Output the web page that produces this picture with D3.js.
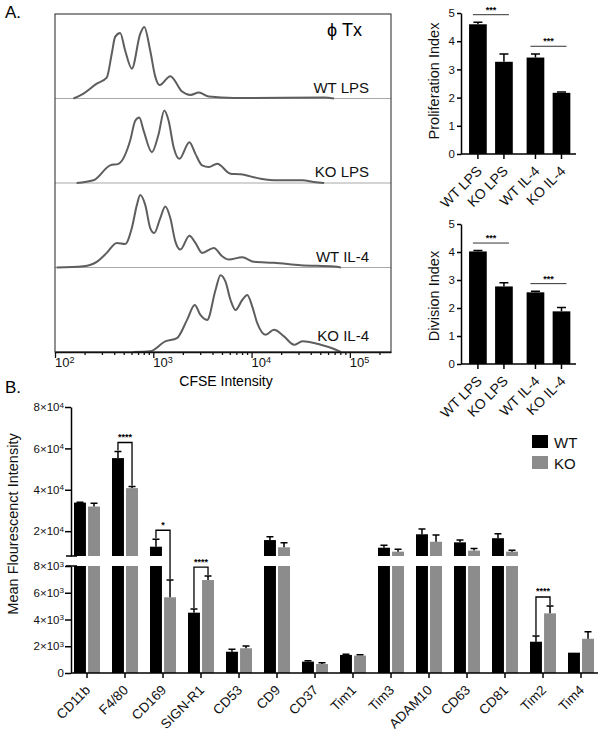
<!DOCTYPE html>
<html>
<head>
<meta charset="utf-8">
<script src="https://cdn.jsdelivr.net/npm/d3@7"></script>
<style>
  body { margin: 0; background: #fff; }
  svg { display: block; font-family: "Liberation Sans", Arial, sans-serif; }
</style>
</head>
<body>
<svg id="fig" width="600" height="733"></svg>
<script>
// ---- panel A, CFSE histograms: [intensity, events] ----
const histSamples = ["WT LPS", "KO LPS", "WT IL-4", "KO IL-4"];
const histWtLps = [[154,0],[195,5],[266,15],[336,21],[378,45],[409,62],[460,66],[518,48],[605,30],
  [736,65],[809,72],[931,48],[1047,22],[1159,13.5],[1490,22.5],[1963,7],[2388,3.5],[2904,6],
  [3673,2],[6605,0.5],[55000,1],[69000,0]];
const histKoLps = [[166,0],[246,2.7],[364,17.7],[443,19.3],[582,42.7],[655,62.7],[720,66],[797,52.7],
  [968,31],[1132,49],[1294,73],[1432,62.7],[1611,36],[1840,24.3],[2329,41],[2683,29.3],[3140,17.7],
  [3673,16],[4467,19.3],[6107,9.3],[7724,8.7],[12350,4.3],[18270,2.7],[32850,2.7],[43200,1],[54700,0]];
const histWtIl4 = [[104,0],[195,1.3],[266,5.7],[336,14.7],[426,24.7],[518,23.7],[605,39.7],[681,63],
  [736,73],[828,63],[931,39.7],[1023,34.7],[1178,49.7],[1325,61.3],[1490,49.7],[1675,26.3],[1886,18],
  [2329,32],[2683,24.7],[3140,14.7],[4130,19.7],[5023,11.3],[5875,8],[8035,10.3],[10560,5.7],
  [16900,4.7],[31620,2.3],[69200,1],[80900,0]];
const histKoIl4 = [[630,0],[931,0.7],[1325,10.7],[1742,14],[2206,32.3],[2641,47.3],[3017,37.3],
  [3532,32.3],[4297,62.3],[4830,77.3],[5430,70.7],[6107,52.3],[6866,42.3],[8035,52.3],[9036,57.3],
  [10160,45.7],[11430,29],[13890,17.3],[16900,22.3],[21380,15.7],[27040,7.3],[32890,10.7],
  [50580,7.3],[69200,3],[80900,0]];
const histData = [histWtLps, histKoLps, histWtIl4, histKoIl4];
const cfseTicks = [100, 1000, 10000, 100000];

// ---- panel A, indices ----
const indexGroups = ["WT LPS", "KO LPS", "WT IL-4", "KO IL-4"];
const prolifMean = [4.6, 3.27, 3.42, 2.17];
const prolifSem = [0.07, 0.28, 0.13, 0.03];
const divMean = [4.02, 2.77, 2.56, 1.88];
const divSem = [0.03, 0.13, 0.04, 0.14];
const indexSig = [["WT LPS", "KO LPS"], ["WT IL-4", "KO IL-4"]];

// ---- panel B, MFI ----
const markers = ["CD11b", "F4/80", "CD169", "SIGN-R1", "CD53", "CD9", "CD37", "Tim1",
  "Tim3", "ADAM10", "CD63", "CD81", "Tim2", "Tim4"];
const genotypes = ["WT", "KO"];
const wtMfi = [33800, 55300, 12500, 4510, 1590, 15700, 850, 1350, 12000, 18500, 14600, 16600, 2340, 1520];
const wtSem = [200, 3200, 3600, 280, 180, 1600, 70, 50, 1160, 2570, 1100, 2100, 430, 0];
const koMfi = [31900, 40800, 5660, 6950, 1850, 12200, 670, 1300, 10100, 14900, 10600, 10100, 4460, 2560];
const koSem = [1600, 770, 1290, 300, 170, 2230, 100, 70, 1160, 3240, 970, 680, 550, 530];
const mfiSig = [["F4/80", "****"], ["CD169", "*"], ["SIGN-R1", "****"], ["Tim2", "****"]];
const upperTicks = [20000, 40000, 60000, 80000];
const lowerTicks = [0, 2000, 4000, 6000, 8000];

const svg = d3.select("#fig");

function powLabel(sel, base, exp) {
  sel.text(null);
  sel.append("tspan").text(base);
  if (exp !== null) sel.append("tspan").attr("dy", "-0.45em").attr("font-size", "0.7em").text(exp);
}

// panel letters
svg.append("text").attr("x", 5).attr("y", 18).attr("font-size", 17).text("A.");
svg.append("text").attr("x", 5).attr("y", 393).attr("font-size", 17).text("B.");

// ================= histograms =================
const hx = d3.scaleLog().domain([100, 262144]).range([55, 391]);
const lane = d3.scaleBand().domain(histSamples).range([14, 352]);
const hy = d3.scaleLinear().domain([0, 85]).range([lane.bandwidth(), 0]);
const histLine = d3.line().x(d => hx(d[0])).y(d => hy(d[1])).curve(d3.curveMonotoneX);

const hist = svg.append("g");
histSamples.forEach((s, i) => {
  const g = hist.append("g").attr("transform", `translate(0,${lane(s)})`);
  g.append("line")
    .attr("x1", 55).attr("x2", 391).attr("y1", hy(0)).attr("y2", hy(0))
    .attr("stroke", "#a8a8a8").attr("stroke-width", 1);
  g.append("path").datum(histData[i])
    .attr("d", histLine)
    .attr("fill", "none").attr("stroke", "#5e5e5e").attr("stroke-width", 2)
    .attr("stroke-linejoin", "round");
  g.append("text")
    .attr("x", 369).attr("y", hy(0) - (i === 3 ? 11 : 6))
    .attr("text-anchor", "end").attr("font-size", 15).attr("fill", "#111")
    .text(s);
});
hist.append("rect")
  .attr("x", 55).attr("y", 14).attr("width", 336).attr("height", 338)
  .attr("fill", "none").attr("stroke", "#222").attr("stroke-width", 1);
hist.append("text").attr("x", 362).attr("y", 36).attr("text-anchor", "end")
  .attr("font-size", 18).text("ϕ Tx");

const minor = [];
for (let k = 2; k <= 5; k++) for (let m = 2; m <= 9; m++) {
  const v = m * Math.pow(10, k);
  if (v <= 262144) minor.push(v);
}
const hAxis = svg.append("g").attr("transform", "translate(0,352)");
hAxis.call(d3.axisBottom(hx).tickValues(cfseTicks).tickSize(6).tickSizeOuter(0).tickFormat(""));
hAxis.append("g").call(d3.axisBottom(hx).tickValues(minor).tickSize(3).tickSizeOuter(0).tickFormat(""))
  .select(".domain").remove();
hAxis.selectAll("line").attr("stroke", "#111").attr("stroke-width", 1.3);
hAxis.select(".domain").attr("stroke", "#111").attr("stroke-width", 1.5);
const hLabels = svg.append("g");
hLabels.selectAll("text").data(cfseTicks).join("text")
  .attr("x", d => hx(d)).attr("y", 367).attr("text-anchor", "start")
  .attr("font-size", 13).attr("fill", "#111")
  .each(function(d) { powLabel(d3.select(this), "10", String(Math.log10(d))); });
svg.append("text").attr("x", 226).attr("y", 386).attr("text-anchor", "middle")
  .attr("font-size", 14).text("CFSE Intensity");

// ================= index bar charts =================
function indexPanel(top, bottom, mean, sem, title, titleY) {
  const y = d3.scaleLinear().domain([0, 5]).range([bottom, top]);
  const x = d3.scaleBand().domain(indexGroups).range([464, 575.4]).paddingInner(0.32).paddingOuter(0.3);
  const cx = (d, i) => x(d) + x.bandwidth() / 2 + (i < 2 ? -2.75 : 2.75);
  const g = svg.append("g");

  g.selectAll(".bar").data(indexGroups).join("rect")
    .attr("x", (d, i) => cx(d, i) - x.bandwidth() / 2)
    .attr("y", (d, i) => y(mean[i]))
    .attr("width", x.bandwidth())
    .attr("height", (d, i) => y(0) - y(mean[i]))
    .attr("fill", "#000");
  g.selectAll(".err").data(indexGroups).join("path")
    .attr("d", (d, i) => {
      const c = cx(d, i), t = y(mean[i] + sem[i]);
      return `M${c},${y(mean[i])}V${t}M${c - 4.5},${t}H${c + 4.5}`;
    })
    .attr("stroke", "#000").attr("stroke-width", 1.5).attr("fill", "none");

  const ax = g.append("g").attr("transform", "translate(461,0)")
    .call(d3.axisLeft(y).ticks(5).tickSize(4).tickSizeOuter(0).tickPadding(2))
    .attr("font-family", null).attr("font-size", null);
  ax.selectAll("text").attr("font-size", 11.5).attr("fill", "#111");
  ax.selectAll("line, .domain").attr("stroke", "#000").attr("stroke-width", 1.5);

  g.append("line").attr("x1", 461).attr("x2", 576).attr("y1", y(0)).attr("y2", y(0))
    .attr("stroke", "#000").attr("stroke-width", 1.5);
  g.selectAll(".tk").data(indexGroups).join("line")
    .attr("x1", (d, i) => cx(d, i)).attr("x2", (d, i) => cx(d, i))
    .attr("y1", y(0)).attr("y2", y(0) + 5)
    .attr("stroke", "#000").attr("stroke-width", 1.5);
  g.selectAll(".xl").data(indexGroups).join("text")
    .attr("transform", (d, i) => `translate(${cx(d, i) + 5},${y(0) + 18}) rotate(-45)`)
    .attr("text-anchor", "end")
    .attr("font-size", 14).attr("fill", "#111")
    .text(d => d);

  indexSig.forEach(([a, b]) => {
    const ia = indexGroups.indexOf(a), ib = indexGroups.indexOf(b);
    const ly = y(Math.max(mean[ia] + sem[ia], mean[ib] + sem[ib]) + 0.27);
    const x1 = cx(a, ia) - 5, x2 = cx(b, ib) + 5;
    g.append("line").attr("x1", x1).attr("x2", x2).attr("y1", ly).attr("y2", ly)
      .attr("stroke", "#333").attr("stroke-width", 1);
    g.append("text").attr("x", (x1 + x2) / 2).attr("y", ly - 2)
      .attr("text-anchor", "middle").attr("font-size", 9).attr("font-weight", "bold").text("***");
  });

  g.append("text").attr("transform", `translate(439,${titleY}) rotate(-90)`)
    .attr("text-anchor", "middle").attr("font-size", 14.5).attr("fill", "#111").text(title);
}
indexPanel(13, 154, prolifMean, prolifSem, "Proliferation Index", 81);
indexPanel(224, 364, divMean, divSem, "Division Index", 296);

// ================= panel B =================
const yUp = d3.scaleLinear().domain([8000, 80000]).range([556, 407]);
const yLo = d3.scaleLinear().domain([0, 8000]).range([673, 566]);
const yAt = v => v > 8000 ? yUp(v) : yLo(v);
const xB = d3.scaleBand().domain(markers).range([68, 600]);
const xG = d3.scaleBand().domain(genotypes).range([6, 32]).paddingInner(0.15);
const fills = { WT: "#000", KO: "#8c8c8c" };

const rows = [];
markers.forEach((m, i) => {
  rows.push({ m, gt: "WT", v: wtMfi[i], e: wtSem[i] });
  rows.push({ m, gt: "KO", v: koMfi[i], e: koSem[i] });
});
rows.forEach(r => { r.cx = xB(r.m) + xG(r.gt) + xG.bandwidth() / 2; });

const gB = svg.append("g");
gB.selectAll(".lo").data(rows).join("rect")
  .attr("x", d => xB(d.m) + xG(d.gt)).attr("width", xG.bandwidth())
  .attr("y", d => yLo(Math.min(d.v, 8000)))
  .attr("height", d => yLo(0) - yLo(Math.min(d.v, 8000)))
  .attr("fill", d => fills[d.gt]);
gB.selectAll(".up").data(rows.filter(d => d.v > 8000)).join("rect")
  .attr("x", d => xB(d.m) + xG(d.gt)).attr("width", xG.bandwidth())
  .attr("y", d => yUp(d.v)).attr("height", d => yUp(8000) - yUp(d.v))
  .attr("fill", d => fills[d.gt]);
gB.selectAll(".err").data(rows.filter(d => d.e > 0)).join("path")
  .attr("d", d => {
    const t = yAt(d.v + d.e);
    return `M${d.cx},${yAt(d.v)}V${t}M${d.cx - 3.5},${t}H${d.cx + 3.5}`;
  })
  .attr("stroke", "#000").attr("stroke-width", 1.5).attr("fill", "none");

// significance brackets
mfiSig.forEach(([m, lbl]) => {
  const w = rows.find(r => r.m === m && r.gt === "WT");
  const k = rows.find(r => r.m === m && r.gt === "KO");
  const wt = yAt(w.v + w.e), kt = yAt(k.v + k.e);
  const top = Math.min(wt, kt) - 9;
  gB.append("path")
    .attr("d", `M${w.cx},${wt - 1}V${top}H${k.cx}V${kt - 1}`)
    .attr("fill", "none").attr("stroke", "#000").attr("stroke-width", 1.3);
  gB.append("text").attr("x", (w.cx + k.cx) / 2).attr("y", top - 2.5)
    .attr("text-anchor", "middle").attr("font-size", 9).attr("font-weight", "bold").text(lbl);
});

// y axes (broken)
function yAxisB(scale, ticks) {
  const ax = gB.append("g").attr("transform", "translate(71,0)")
    .call(d3.axisLeft(scale).tickValues(ticks).tickSize(6).tickSizeOuter(0).tickPadding(1))
    .attr("font-family", null).attr("font-size", null);
  ax.selectAll("line, .domain").attr("stroke", "#000").attr("stroke-width", 1.5);
  ax.selectAll("text").attr("font-size", 11.5).attr("fill", "#111")
    .each(function(d) {
      if (d === 0) return;
      const e = Math.floor(Math.log10(d));
      powLabel(d3.select(this), `${d / Math.pow(10, e)}×10`, String(e));
    });
}
yAxisB(yUp, upperTicks);
yAxisB(yLo, lowerTicks);
[556, 566].forEach(v => {
  gB.append("line").attr("x1", 66).attr("x2", 77).attr("y1", v).attr("y2", v)
    .attr("stroke", "#000").attr("stroke-width", 1.5);
});

// x axis
gB.append("line").attr("x1", 71).attr("x2", 598).attr("y1", 673).attr("y2", 673)
  .attr("stroke", "#000").attr("stroke-width", 1.5);
gB.selectAll(".tk").data(markers).join("line")
  .attr("x1", d => xB(d) + xB.bandwidth() / 2).attr("x2", d => xB(d) + xB.bandwidth() / 2)
  .attr("y1", 673).attr("y2", 678)
  .attr("stroke", "#000").attr("stroke-width", 1.5);
gB.selectAll(".xl").data(markers).join("text")
  .attr("transform", d => `translate(${xB(d) + xB.bandwidth() / 2 + 4},691) rotate(-45)`)
  .attr("text-anchor", "end")
  .attr("font-size", 13.5).attr("fill", "#111")
  .text(d => d);

gB.append("text").attr("transform", "translate(18,524) rotate(-90)")
  .attr("text-anchor", "middle").attr("font-size", 14.5).attr("fill", "#111")
  .text("Mean Flourescenct Intensity");

// legend
const leg = gB.selectAll(".leg").data(genotypes).join("g")
  .attr("transform", (d, i) => `translate(532,${435 + i * 21})`);
leg.append("rect").attr("width", 16).attr("height", 13).attr("fill", d => fills[d]);
leg.append("text").attr("x", 22).attr("y", 12.5).attr("font-size", 15).attr("fill", "#111").text(d => d);
</script>
</body>
</html>
